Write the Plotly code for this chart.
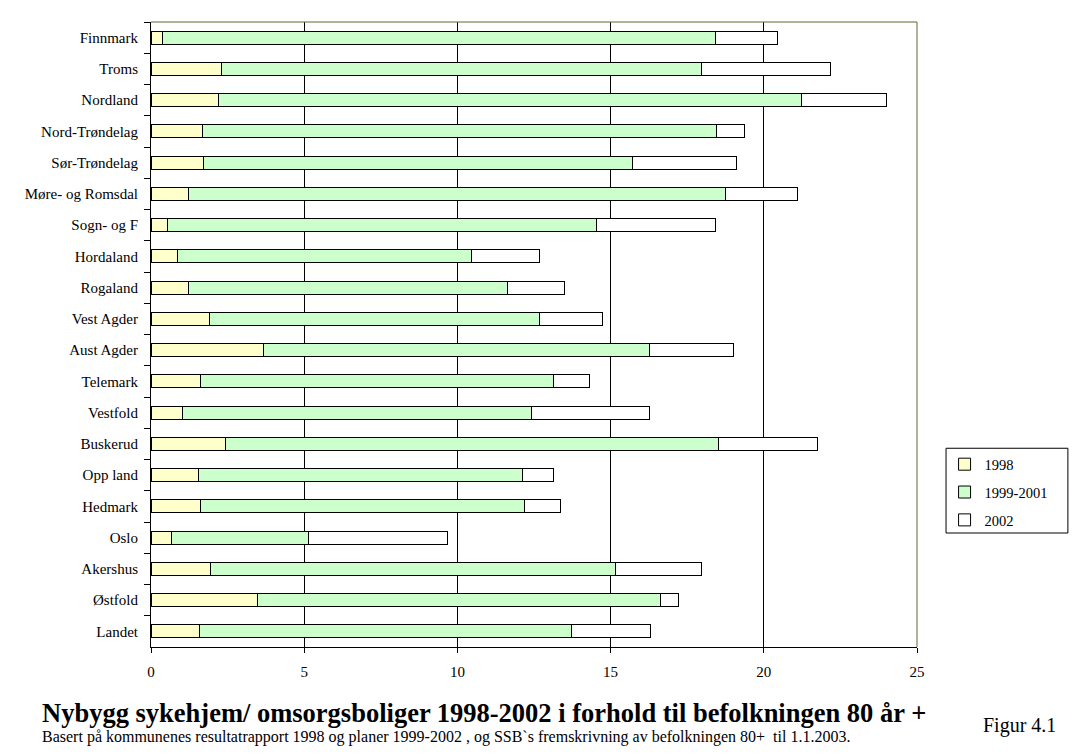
import plotly.graph_objects as go

categories = ["Finnmark", "Troms", "Nordland", "Nord-Trøndelag", "Sør-Trøndelag",
              "Møre- og Romsdal", "Sogn- og F", "Hordaland", "Rogaland", "Vest Agder",
              "Aust Agder", "Telemark", "Vestfold", "Buskerud", "Opp land", "Hedmark",
              "Oslo", "Akershus", "Østfold", "Landet"]

v1998 = [0.37, 2.29, 2.20, 1.67, 1.72, 1.22, 0.53, 0.87, 1.23, 1.90,
         3.68, 1.61, 1.02, 2.44, 1.56, 1.61, 0.66, 1.95, 3.48, 1.58]
v1999_2001 = [18.06, 15.68, 19.03, 16.79, 13.98, 17.52, 14.00, 9.60, 10.39, 10.77,
              12.58, 11.51, 11.40, 16.07, 10.58, 10.57, 4.47, 13.20, 13.14, 12.13]
v2002 = [2.02, 4.20, 2.77, 0.90, 3.40, 2.35, 3.90, 2.21, 1.86, 2.06,
         2.75, 1.18, 3.85, 3.23, 0.98, 1.20, 4.55, 2.81, 0.58, 2.58]

series_names = ["1998", "1999-2001", "2002"]
series_values = [v1998, v1999_2001, v2002]
series_colors = ["#FFFFCC", "#CCFFCC", "#FFFFFF"]

x_ticks = [0, 5, 10, 15, 20, 25]

FONT = "Liberation Serif"

fig = go.Figure()
for name, vals, col in zip(series_names, series_values, series_colors):
    fig.add_trace(go.Bar(
        y=categories, x=vals, name=name, orientation="h",
        marker=dict(color=col, line=dict(color="black", width=1)),
        legendgroup=name,
    ))

fig.update_layout(
    width=1085, height=756,
    barmode="stack", bargap=0.58,
    paper_bgcolor="white", plot_bgcolor="white",
    margin=dict(l=151, r=168, t=22, b=109),
    font=dict(family=FONT, color="black"),
    showlegend=True,
    legend=dict(
        x=1.036, y=0.318, xanchor="left", yanchor="top",
        borderwidth=0, bgcolor="rgba(0,0,0,0)",
        font=dict(family=FONT, size=14.5, color="black"),
        traceorder="grouped", tracegroupgap=6,
        itemwidth=30,
    ),
    xaxis=dict(
        range=[0, 25], tickvals=x_ticks, ticktext=[str(t) for t in x_ticks],
        showgrid=True, gridcolor="black", gridwidth=1,
        showline=True, linecolor="black", linewidth=1,
        ticks="outside", ticklen=5, tickcolor="black",
        tickfont=dict(family=FONT, size=15), zeroline=False,
        ticklabelstandoff=6,
    ),
    yaxis=dict(
        autorange="reversed", type="category",
        showgrid=False, showline=True, linecolor="black", linewidth=1,
        ticks="outside", ticklen=6, tickcolor="black", tickson="boundaries",
        tickfont=dict(family=FONT, size=15), ticklabelstandoff=9,
    ),
    shapes=[
        dict(type="line", xref="paper", yref="paper", x0=0, x1=1, y0=1, y1=1,
             line=dict(color="#666633", width=1)),
        dict(type="line", xref="paper", yref="paper", x0=1, x1=1, y0=0, y1=1,
             line=dict(color="#666633", width=1)),
        dict(type="rect", xref="paper", yref="paper", x0=1.0379, x1=1.197,
             y0=0.1824, y1=0.318, line=dict(color="black", width=1),
             fillcolor="white", layer="below"),
    ],
    annotations=[
        dict(text="<b>Nybygg sykehjem/ omsorgsboliger 1998-2002 i forhold til befolkningen 80 år +</b>",
             xref="paper", yref="paper", x=-0.145, y=-0.105, xanchor="left", yanchor="middle",
             showarrow=False, font=dict(family=FONT, size=26.5, color="black")),
        dict(text="Basert på kommunenes resultatrapport 1998 og planer 1999-2002 , og SSB`s fremskrivning av befolkningen 80+  til 1.1.2003.",
             xref="paper", yref="paper", x=-0.145, y=-0.144, xanchor="left", yanchor="middle",
             showarrow=False, font=dict(family=FONT, size=16, color="black")),
        dict(text="Figur 4.1",
             xref="paper", yref="paper", x=1.134, y=-0.125, xanchor="center", yanchor="middle",
             showarrow=False, font=dict(family=FONT, size=20, color="black")),
    ],
)

fig.write_html("out.html")
